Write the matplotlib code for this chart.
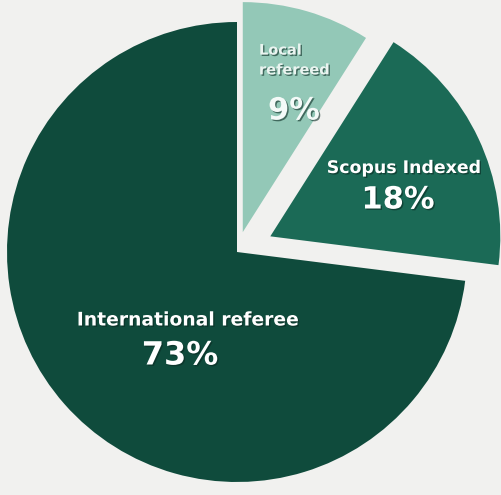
import matplotlib
matplotlib.use("Agg")
import matplotlib.pyplot as plt
import matplotlib.patheffects as pe

labels = ["Local\nrefereed", "Scopus Indexed", "International referee"]
shares = [9, 18, 73]
colors = ["#93c8b7", "#1b6a56", "#0f4b3c"]
explode = [0.09, 0.16, 0.0]

W, H = 501, 495
cx, cy, rad = 237, 252, 230  # pie centre / radius in pixels

fig = plt.figure(figsize=[W / 100, H / 100], dpi=100, facecolor="#f1f1ef")
ax = fig.add_axes([0, 0, 1, 1])
ax.set_facecolor("#f1f1ef")

ax.pie(shares, colors=colors, explode=explode, startangle=90,
       counterclock=False, radius=1.0,
       wedgeprops=dict(linewidth=0))
ax.set_xlim(-cx / rad, (W - cx) / rad)
ax.set_ylim(-(H - cy) / rad, cy / rad)
ax.set_aspect("equal")
ax.axis("off")

shadow = [pe.withSimplePatchShadow(offset=(1, -1), shadow_rgbFace="#0a2a22", alpha=0.6)]

def px(x, y):
    return x / W, 1 - y / H

font = "DejaVu Sans"
# Local refereed
fig.text(*px(259, 60), labels[0], ha="left", va="center", color="#eaf4f0",
         fontsize=10.5, fontfamily=font, fontweight="bold", linespacing=1.4,
         path_effects=shadow)
fig.text(*px(294, 111), f"{shares[0]}%", ha="center", va="center", color="#f4faf8",
         fontsize=22, fontfamily=font, fontweight="bold", path_effects=shadow)
# Scopus
fig.text(*px(404, 168), labels[1], ha="center", va="center", color="white",
         fontsize=12.5, fontfamily=font, fontweight="bold", path_effects=shadow)
fig.text(*px(398, 200), f"{shares[1]}%", ha="center", va="center", color="white",
         fontsize=22, fontfamily=font, fontweight="bold", path_effects=shadow)
# International
fig.text(*px(188, 320), labels[2], ha="center", va="center", color="white",
         fontsize=13.5, fontfamily=font, fontweight="bold", path_effects=shadow)
fig.text(*px(180, 356), f"{shares[2]}%", ha="center", va="center", color="white",
         fontsize=23, fontfamily=font, fontweight="bold", path_effects=shadow)

fig.savefig("out.png", dpi=100, facecolor=fig.get_facecolor())
